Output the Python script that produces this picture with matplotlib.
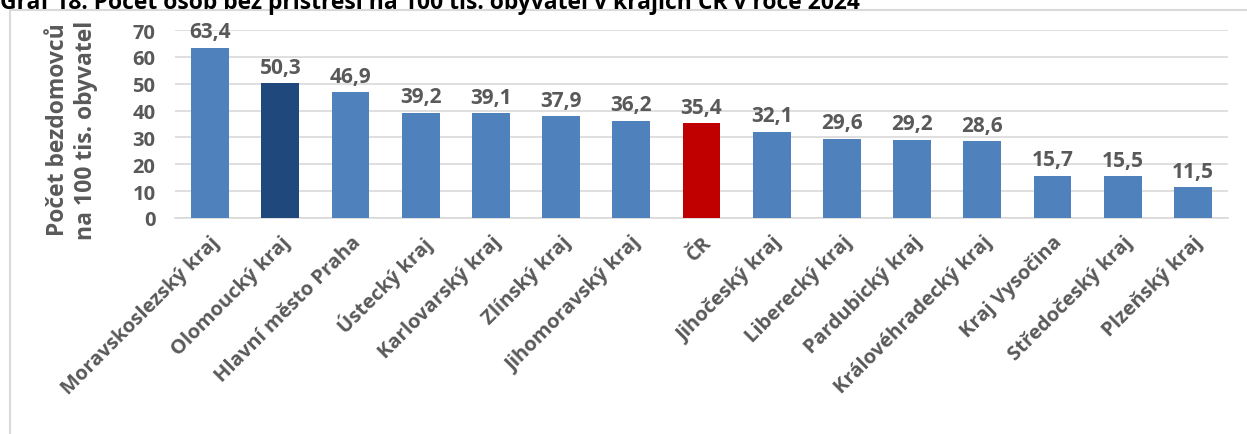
import matplotlib.pyplot as plt
from matplotlib.patches import Rectangle

### Data
kraje = ["Moravskoslezský kraj", "Olomoucký kraj", "Hlavní město Praha",
         "Ústecký kraj", "Karlovarský kraj", "Zlínský kraj",
         "Jihomoravský kraj", "ČR", "Jihočeský kraj", "Liberecký kraj",
         "Pardubický kraj", "Královéhradecký kraj", "Kraj Vysočina",
         "Středočeský kraj", "Plzeňský kraj"]
hodnoty = [63.4, 50.3, 46.9, 39.2, 39.1, 37.9, 36.2, 35.4, 32.1, 29.6,
           29.2, 28.6, 15.7, 15.5, 11.5]
yticks = [0, 10, 20, 30, 40, 50, 60, 70]

barvy = []
for k in kraje:
    if k == "ČR":
        barvy.append("#C00000")
    elif k == "Olomoucký kraj":
        barvy.append("#1F497D")
    else:
        barvy.append("#4F81BD")

plt.rcParams['font.family'] = ['Open Sans', 'DejaVu Sans']
text_color = "#595959"

W, H = 1247, 435
fig = plt.figure(figsize=(W / 100, H / 100), dpi=100)

### Chart frame
fig.patches.append(Rectangle((10 / W, -0.1), 1.2, 1 - 11 / H + 0.1,
                             transform=fig.transFigure, fill=False,
                             edgecolor="#D9D9D9", linewidth=1.5))

### Title (clipped by the top edge as in the original)
fig.text(0 / W, 1 - 9 / H, "Graf 18: Počet osob bez přístřeší na 100 tis. obyvatel v krajích ČR v roce 2024",
         fontsize=16.5, fontweight="bold", color="black", ha="left", va="baseline")

ax = fig.add_axes([175 / W, 1 - 219 / H, (1228 - 175) / W, (219 - 31) / H])
x = list(range(len(kraje)))
bars = ax.bar(x, hodnoty, width=0.54, color=barvy, zorder=3)

for xi, v in zip(x, hodnoty):
    ax.text(xi, v + 2.0, f"{v:.1f}".replace(".", ","), ha="center", va="bottom",
            fontsize=15, fontweight="bold", color=text_color)

ax.set_xlim(-0.5, len(kraje) - 0.5)
ax.set_ylim(0, 70)
ax.set_yticks(yticks)
ax.set_yticklabels([str(t) for t in yticks], fontsize=14.5, fontweight="bold", color=text_color)
ax.set_xticks(x)
ax.set_xticklabels(kraje, rotation=45, ha="right", rotation_mode="anchor",
                   fontsize=14.5, fontweight="bold", color=text_color)
ax.tick_params(axis="both", length=0)
ax.tick_params(axis="y", pad=14)
ax.tick_params(axis="x", pad=10)

ax.grid(axis="y", color="#D9D9D9", linewidth=1.2, zorder=0)
for s in ["top", "right", "left"]:
    ax.spines[s].set_visible(False)
ax.spines["bottom"].set_color("#D9D9D9")
ax.spines["bottom"].set_linewidth(1.2)

fig.text(72 / W, 1 - 130 / H, "Počet bezdomovců\nna 100 tis. obyvatel", rotation=90,
         ha="center", va="center", fontsize=16.5, fontweight="bold", color=text_color,
         linespacing=1.25)

fig.savefig("out.png", dpi=100)
